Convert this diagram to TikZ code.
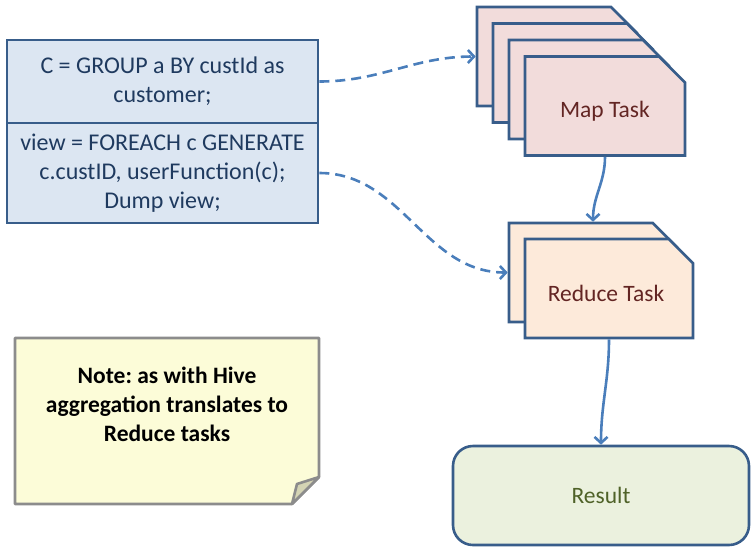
\documentclass[tikz,border=0pt]{standalone}
\usepackage{fontspec}
\setmainfont{Carlito}
\frenchspacing
\usetikzlibrary{shapes.misc,arrows.meta}

\definecolor{boxline}{HTML}{385D8A}
\definecolor{flowblue}{HTML}{4A7EBB}
\definecolor{codefill}{HTML}{DCE6F2}
\definecolor{codetext}{HTML}{1F3A5F}
\definecolor{mapfill}{HTML}{F2DCDB}
\definecolor{redfill}{HTML}{FDEADA}
\definecolor{tasktext}{HTML}{632523}
\definecolor{resfill}{HTML}{EBF1DE}
\definecolor{restext}{HTML}{4F6228}
\definecolor{notefill}{HTML}{FCFCD8}
\definecolor{noteline}{HTML}{8C8C8C}
\definecolor{flapfill}{HTML}{D4D4B4}

\tikzset{
  card/.style={chamfered rectangle, chamfered rectangle corners=north east,
    chamfered rectangle xsep=15pt, chamfered rectangle ysep=16pt,
    draw=boxline, line width=2.6pt, inner sep=0pt,
    font=\fontsize{23.5}{28}\selectfont},
  mapcard/.style={card, fill=mapfill, minimum width=160pt, minimum height=99pt},
  redcard/.style={card, fill=redfill, minimum width=168pt, minimum height=99pt},
  tasklabel/.style={text=tasktext, inner sep=0pt, font=\fontsize{23.5}{28}\selectfont},
  codebox/.style={rectangle, draw=boxline, line width=2.6pt, fill=codefill,
    text=codetext, align=center, minimum width=311pt, inner sep=0pt,
    font=\fontsize{24}{29}\selectfont},
  resbox/.style={rectangle, rounded corners=20pt, draw=boxline, line width=2.6pt,
    fill=resfill, text=restext, minimum width=296pt, minimum height=99pt,
    font=\fontsize{23.5}{28}\selectfont},
  notebox/.style={draw=noteline, line width=2.6pt, fill=notefill, line join=round},
  notetext/.style={align=center, font=\fontsize{23.5}{29}\selectfont\bfseries},
  flow/.style={draw=flowblue, line width=2.6pt, -{Straight Barb[length=6pt,width=13pt]}},
  dashflow/.style={flow, dash pattern=on 10pt off 6pt},
}

\begin{document}
\begin{tikzpicture}[x=1pt,y=-1pt]
    \useasboundingbox (0,0) rectangle (753,550);

    % code boxes
    \node[codebox, minimum height=83pt] (group) at (162.5,81.5)
        {C = GROUP a BY custId as\\customer;};
    \node[codebox, minimum height=100pt] (foreach) at (162.5,173)
        {view = FOREACH c GENERATE\\c.custID, userFunction(c);\\Dump view;};

    % map tasks
    \foreach \i in {0,...,3}
        \node[mapcard] (map\i) at (557+16*\i, 56.5+16.5*\i) {\phantom{Map Task}};
    \node[tasklabel] (maplabel) at ([yshift=-5pt]map3.center) {Map Task};

    % reduce tasks
    \node[redcard] (red0) at (593,272.5) {\phantom{Reduce Task}};
    \node[redcard] (red1) at (609,288.5) {\phantom{Reduce Task}};
    \node[tasklabel] (redlabel) at ([xshift=-3pt,yshift=-5pt]red1.center) {Reduce Task};

    % result
    \node[resbox] (result) at (601,495.5) {Result};

    % note
    \draw[notebox] (15,338) -- (319,338) -- (319,477) -- (292,504) -- (15,504) -- cycle;
    \draw[notebox, fill=flapfill] (319,477) -- (297,484) -- (292,504) -- cycle;
    \node[notetext] (note) at (167,404) {Note: as with Hive\\aggregation translates to\\Reduce tasks};

    % connectors
    \draw[dashflow] (group.east) to[out=0,in=180] (map0.west);
    \draw[dashflow] (foreach.east) to[out=0,in=180] (red0.west);
    \draw[flow] (map3.south) to[out=-90,in=90] (red0.north);
    \draw[flow] (red1.south) to[out=-90,in=90] (result.north);

\end{tikzpicture}
\end{document}
